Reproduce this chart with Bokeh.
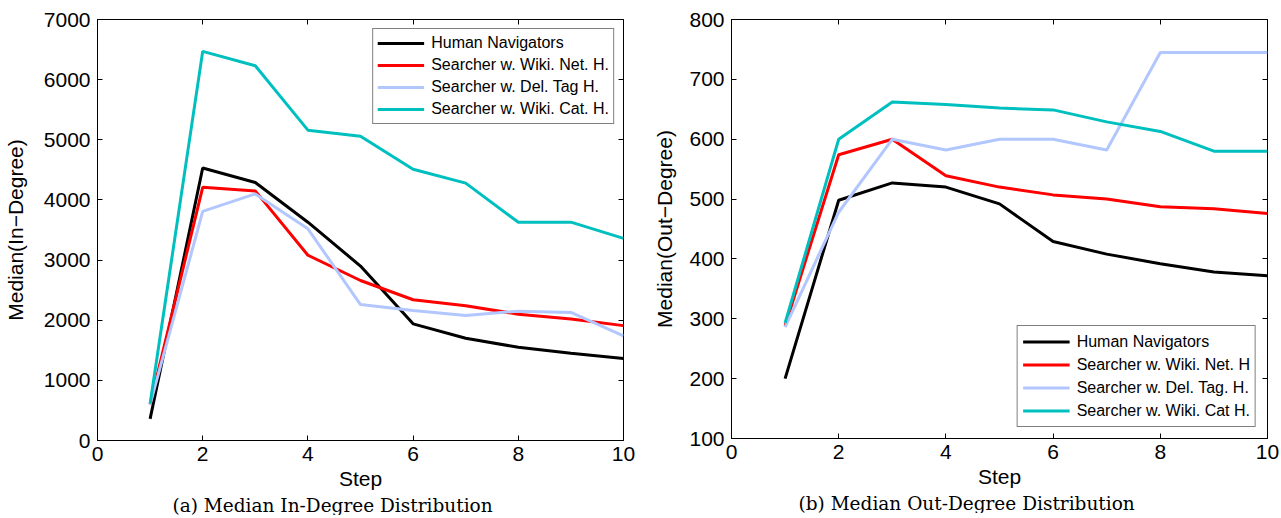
from bokeh.plotting import figure
from bokeh.models import (LinearAxis, Title, Range1d, Legend, LegendItem,
                          SingleIntervalTicker, CustomLabelingPolicy)
from bokeh.layouts import row
from bokeh.embed import file_html
from bokeh.resources import INLINE

steps = [1, 2, 3, 4, 5, 6, 7, 8, 9, 10]

series_names_in = ["Human Navigators", "Searcher w. Wiki. Net. H.",
                   "Searcher w. Del. Tag H.", "Searcher w. Wiki. Cat. H."]
series_names_out = ["Human Navigators", "Searcher w. Wiki. Net. H",
                    "Searcher w. Del. Tag. H.", "Searcher w. Wiki. Cat H."]

in_human = [360, 4530, 4290, 3630, 2900, 1940, 1700, 1550, 1450, 1365]
in_net = [600, 4210, 4150, 3080, 2660, 2340, 2240, 2100, 2020, 1910]
in_del = [600, 3810, 4100, 3520, 2260, 2160, 2080, 2150, 2130, 1740]
in_cat = [610, 6470, 6230, 5160, 5060, 4510, 4280, 3630, 3630, 3360]

out_human = [200, 498, 527, 520, 492, 429, 408, 392, 378, 372]
out_net = [288, 574, 600, 539, 520, 507, 500, 487, 484, 476]
out_del = [286, 478, 600, 582, 600, 600, 582, 745, 745, 745]
out_cat = [293, 600, 662, 658, 652, 649, 629, 613, 580, 580]

colors = ["#000000", "#ff0000", "#b3c7ff", "#00bfbf"]

FONT = "Liberation Sans"


def make_fig(ys, names, yr, ystep, ylabel, caption, frame_w, frame_h,
             ylabel_standoff, legend_loc, legend_margin,
             label_h, pad, cap_offset):
    p = figure(frame_width=frame_w, frame_height=frame_h,
               x_range=Range1d(0, 10), y_range=Range1d(*yr),
               output_backend="svg", toolbar_location=None,
               min_border=0)
    p.grid.visible = False
    p.outline_line_color = "black"
    p.outline_line_width = 1
    p.outline_line_alpha = 1
    p.background_fill_color = "white"
    p.border_fill_color = "white"

    xt = SingleIntervalTicker(interval=2, num_minor_ticks=0)
    yt = SingleIntervalTicker(interval=ystep, num_minor_ticks=0)
    p.xaxis.ticker = xt
    p.yaxis.ticker = yt
    for ax in (p.xaxis[0], p.yaxis[0]):
        ax.major_tick_in = 5
        ax.major_tick_out = 0
        ax.minor_tick_line_color = None
        ax.axis_line_color = "black"
        ax.major_tick_line_color = "black"
        ax.major_label_text_font = FONT
        ax.major_label_text_font_size = "21px"
        ax.major_label_text_color = "black"
        ax.axis_label_text_font = FONT
        ax.axis_label_text_font_size = "21px"
        ax.axis_label_text_font_style = "normal"
        ax.axis_label_text_color = "black"
    p.xaxis.major_label_standoff = 6
    p.yaxis.major_label_standoff = 7
    p.xaxis.axis_label = "Step"
    p.xaxis.axis_label_standoff = 3
    p.yaxis.axis_label = ylabel
    p.yaxis.axis_label_standoff = ylabel_standoff

    # matlab-style box ticks on top and right (no labels)
    for side, tk, so in (("right", yt, 0), ("above", xt, 8)):
        ax = LinearAxis(ticker=tk)
        ax.major_tick_in = 5
        ax.major_tick_out = 0
        ax.minor_tick_line_color = None
        ax.axis_line_color = None
        ax.major_tick_line_color = "black"
        ax.major_label_standoff = so
        ax.major_label_policy = CustomLabelingPolicy(
            code="const all = [...indices]; for (const i of all) indices.unset(i); return indices")
        p.add_layout(ax, side)

    renderers = []
    for y, c in zip(ys, colors):
        r = p.line(steps, y, line_color=c, line_width=3)
        renderers.append(r)

    items = [LegendItem(label=n, renderers=[r]) for n, r in zip(names, renderers)]
    leg = Legend(items=items, location=legend_loc, margin=legend_margin,
                 padding=pad, spacing=2, glyph_width=47, glyph_height=label_h,
                 label_height=label_h, label_standoff=7,
                 label_text_font=FONT, label_text_font_size="16px",
                 label_text_color="black",
                 border_line_color="black", border_line_width=1.2,
                 background_fill_color="white", background_fill_alpha=1)
    p.add_layout(leg, "center")

    cap = Title(text=caption, align="left", offset=cap_offset,
                text_font="DejaVu Serif", text_font_size="18.5px",
                text_font_style="normal", text_color="black", standoff=0)
    p.add_layout(cap, "below")
    return p


p1 = make_fig([in_human, in_net, in_del, in_cat], series_names_in, (0, 7000), 1000,
              "Median(In\u2212Degree)", "(a) Median In-Degree Distribution",
              526, 421, 14, "top_right", 9, 20, 4, 75)
p2 = make_fig([out_human, out_net, out_del, out_cat], series_names_out, (100, 800), 100,
              "Median(Out\u2212Degree)", "(b) Median Out-Degree Distribution",
              536, 419, 10, "bottom_right", 11, 21, 5, 67)

layout = row(p1, p2, spacing=0)

open("out.html", "w").write(file_html(layout, INLINE))
